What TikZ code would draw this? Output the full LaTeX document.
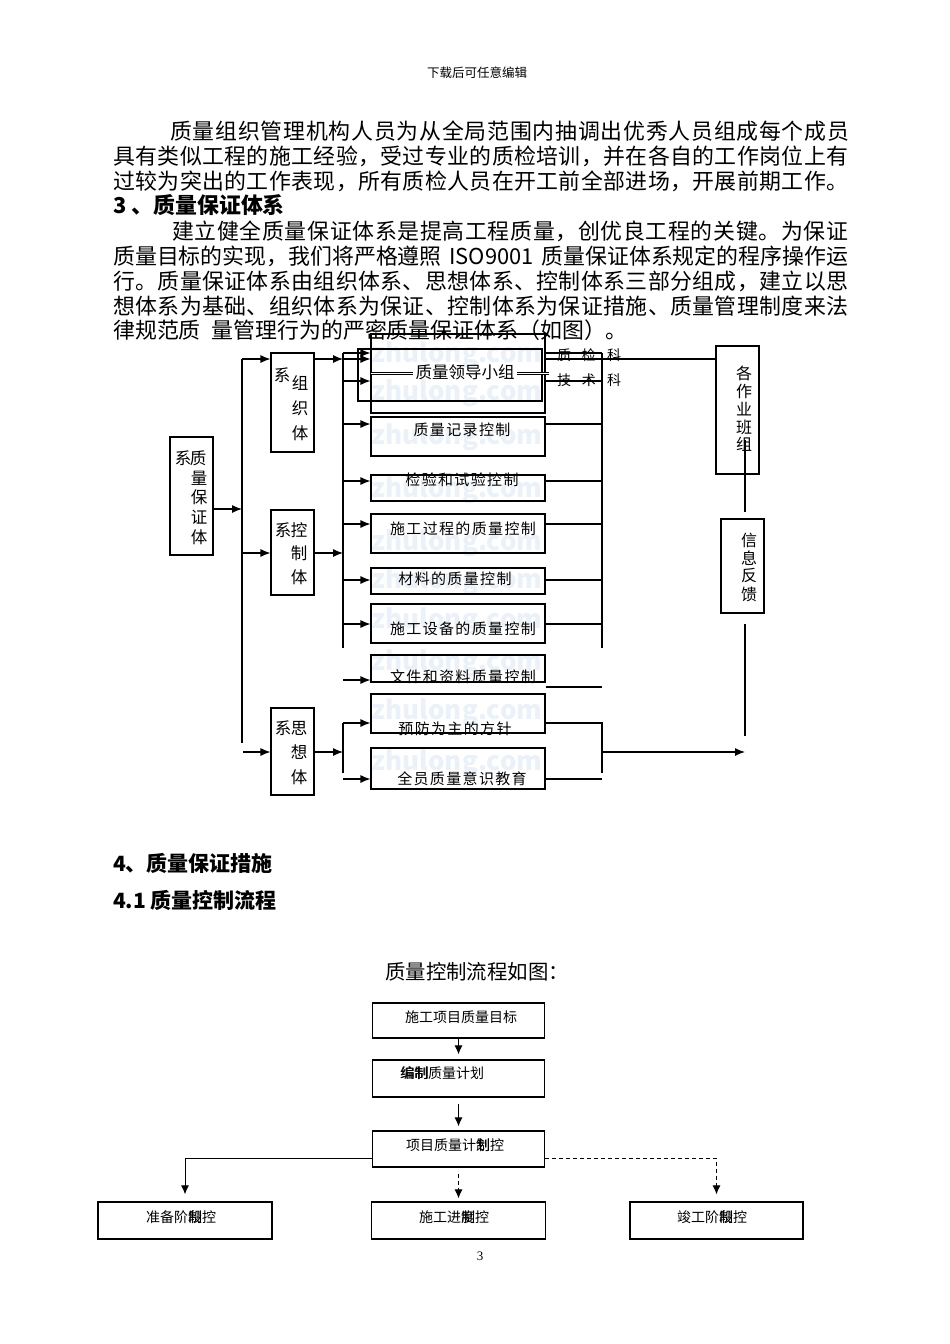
\documentclass[tikz,border=0pt]{standalone}
\usepackage{fontspec}
\setmainfont{Noto Sans CJK SC}
\newfontfamily\boxfont[LetterSpace=9]{Noto Sans CJK SC}
\newfontfamily\pagefont{Liberation Serif}
\usetikzlibrary{arrows.meta,positioning,calc}
\definecolor{mark}{HTML}{EBF1F8}

\makeatletter
\newcommand\spreadline[2]{\makebox[#1][s]{\@tfor\ch:=#2\do{\ch\hfil}\unskip}}
\makeatother
\newcommand\ovl[2]{\rlap{#1}#2}

\tikzset{
  frame/.style={draw,line width=1.1pt,inner sep=0pt},
  link/.style={line width=1.1pt},
  arr/.style={line width=1.1pt,-{Latex[length=10pt,width=8pt]}},
  arr2/.style={line width=1pt,-{Latex[length=9pt,width=8pt]}},
  bodyline/.style={anchor=west,inner sep=0pt,font=\fontsize{21.9}{26}\selectfont},
  boxtext/.style={inner sep=0pt,font=\boxfont\fontsize{15}{18}\selectfont},
  vchar/.style={inner sep=0pt,font=\fontsize{16.5}{19}\selectfont},
  flowtext/.style={inner sep=0pt,font=\fontsize{14}{17}\selectfont},
  wmark/.style={inner sep=0pt,text=mark,font=\bfseries\fontsize{26}{30}\selectfont}
}

\begin{document}
\begin{tikzpicture}[x=1pt,y=-1pt]
\useasboundingbox (0,0) rectangle (950,1344);
\fill[white] (0,0) rectangle (950,1344);

\node (hdr) [inner sep=0pt,font=\fontsize{12.5}{15}\selectfont] at (477,73) {下载后可任意编辑};

% text
\node (p1) [bodyline] at (170,131) {\spreadline{679pt}{质量组织管理机构人员为从全局范围内抽调出优秀人员组成每个成员}};
\node (p2) [bodyline] at (113,156) {\spreadline{735pt}{具有类似工程的施工经验，受过专业的质检培训，并在各自的工作岗位上有}};
\node (p3) [bodyline] at (113,181) {\spreadline{735pt}{过较为突出的工作表现，所有质检人员在开工前全部进场，开展前期工作。}};
\node (h3) [bodyline,font=\bfseries\fontsize{21.9}{26}\selectfont] at (113,205) {3 、质量保证体系};
\node (q1) [bodyline] at (172,231) {\spreadline{676pt}{建立健全质量保证体系是提高工程质量，创优良工程的关键。为保证}};
\node (q2) [bodyline] at (113,256) {\makebox[735pt][s]{质量目标的实现，我们将严格遵照 ISO9001 质量保证体系规定的程序操作运}};
\node (q3) [bodyline] at (113,281) {\spreadline{735pt}{行。质量保证体系由组织体系、思想体系、控制体系三部分组成，建立以思}};
\node (q4) [bodyline] at (113,306) {\spreadline{735pt}{想体系为基础、组织体系为保证、控制体系为保证措施、质量管理制度来法}};
\node (q5) [bodyline] at (113,330) {律规范质\hspace{0.5em}量管理行为的严密质量保证体系（如图）。};

% watermark
\foreach \y [count=\i] in {355,393,437,490,543,581,621,663,712,763}
  \node (wm\i) [wmark] at (457,\y) {zhulong.com};

% boxes
\node (qbzt) [frame,minimum width=43pt,minimum height=118pt] at (191.5,496) {};
\node (zz) [frame,minimum width=43pt,minimum height=99pt] at (292.5,402.5) {};
\node (kz) [frame,minimum width=43pt,minimum height=85pt] at (292.5,552.5) {};
\node (sx) [frame,minimum width=43pt,minimum height=87pt] at (292.5,751.5) {};
\node (lead) [frame,minimum width=174pt,minimum height=79pt] at (458,373.5) {};
\node (leadin) [frame,minimum width=184pt,minimum height=52pt] at (450,375) {};
\node (jl) [frame,minimum width=174pt,minimum height=39pt] at (458,436.5) {};
\node (jy) [frame,minimum width=174pt,minimum height=26pt] at (458,488) {};
\node (sg) [frame,minimum width=174pt,minimum height=39pt] at (458,533.5) {};
\node (cl) [frame,minimum width=174pt,minimum height=26pt] at (458,581) {};
\node (sb) [frame,minimum width=174pt,minimum height=39pt] at (458,623.5) {};
\node (wj) [frame,minimum width=174pt,minimum height=27pt] at (458,668.5) {};
\node (yf) [frame,minimum width=174pt,minimum height=39pt] at (458,713.5) {};
\node (qy) [frame,minimum width=174pt,minimum height=41pt] at (458,768.5) {};
\node (gz) [frame,minimum width=43pt,minimum height=128pt] at (737.5,410) {};
\node (xx) [frame,minimum width=43pt,minimum height=94pt] at (742.5,566) {};

% box labels
\foreach \c/\x/\y [count=\i] in {系/183/458,质/198/458,量/199/478,保/199/497,证/199/517,体/199/537,
    系/282/375,组/300/383,织/300/408,体/300/433,
    系/283/530,控/299/530,制/299/553,体/299/577,
    系/283/728,思/299/728,想/299/752,体/299/777}
  \node (vc\i) [vchar] at (\x,\y) {\c};
\foreach \c/\y [count=\i] in {各/373,作/391,业/409,班/427,组/444}
  \node (gc\i) [vchar,font=\fontsize{16}{18}\selectfont] at (744,\y) {\c};
\foreach \c/\y [count=\i] in {信/540,息/558,反/576,馈/594}
  \node (xc\i) [vchar,font=\fontsize{16}{18}\selectfont] at (749,\y) {\c};

\node (leadt) [inner sep=0pt,font=\fontsize{16.5}{19}\selectfont] at (465,372) {质量领导小组};
\draw[double,double distance=1.8pt,line width=0.7pt] (371,373.5) -- (413,373.5);
\draw[double,double distance=1.8pt,line width=0.7pt] (517,373.5) -- (549,373.5);
\node (jlt) [boxtext] at (462,430) {质量记录控制};
\node (jyt) [boxtext] at (462,480) {检验和试验控制};
\node (sgt) [boxtext] at (463,529) {施工过程的质量控制};
\node (clt) [boxtext] at (455,579) {材料的质量控制};
\node (sbt) [boxtext] at (463,629) {施工设备的质量控制};
\node (wjt) [boxtext] at (463,677) {文件和资料质量控制};
\node (yft) [boxtext] at (455,729) {预防为主的方针};
\node (qyt) [boxtext] at (462,779) {全员质量意识教育};
\node (zjk) [inner sep=0pt,font=\fontsize{14}{16}\selectfont] at (589,355) {质\hspace{11pt}检\hspace{11pt}科};
\node (jsk) [inner sep=0pt,font=\fontsize{14}{16}\selectfont] at (589,380) {技\hspace{11pt}术\hspace{11pt}科};

% main trunk
\coordinate (ta) at (242,359);
\coordinate (tb) at (242,743);
\coordinate (tin) at (242,509);
\coordinate (tk) at (242,553);
\coordinate (ts) at (243,752);
\draw[link] (ta) -- (tb);
\draw[arr] (qbzt.east |- tin) -- (tin);
\draw[arr] (ta) -- (zz.west |- ta);
\draw[arr] (tk) -- (kz.west |- tk);
\draw[arr] (ts) -- (sx.west |- ts);

% organisation and control branches
\coordinate (ua) at (343,353);
\coordinate (ub) at (343,648);
\coordinate (uz) at (343,359);
\coordinate (uj) at (343,381);
\coordinate (uk) at (343,553);
\draw[link] (ua) -- (ub);
\draw[arr] (zz.east |- uz) -- (uz);
\draw[arr] (uz) -- (lead.west |- uz);
\draw[arr] (ua) -- (lead.west |- ua);
\draw[arr] (uj) -- (lead.west |- uj);
\draw[arr] (kz.east |- uk) -- (uk);
\foreach \n/\y in {jl/424,jy/481,sg/524,cl/580,sb/624}{
  \draw[arr] (343,\y) -- (\n.west |- 343,\y);
  \draw[link] (\n.east |- 602,\y) -- (602,\y);
}
\draw[arr] (343,680) -- (wj.west |- 343,680);
\draw[link] (wj.east |- 602,687) -- (602,687);

\coordinate (va) at (602,353);
\coordinate (vb) at (602,648);
\draw[link] (va) -- (vb);
\draw[link] (lead.east |- va) -- (va);
\draw[link] (lead.east |- uz) -- (gz.west |- uz);
\draw[link] (lead.east |- uj) -- (602,381);

% thinking branch
\coordinate (wa) at (343,723);
\coordinate (wb) at (343,773);
\draw[link] (wa) -- (wb);
\draw[arr] (sx.east |- 343,752) -- (343,752);
\draw[arr] (wa) -- (yf.west |- wa);
\draw[arr] (343,779) -- (qy.west |- 343,779);
\draw[link] (yf.east |- wa) -- (602,723) -- (602,773);
\draw[link] (qy.east |- 343,779) -- (602,779);
\coordinate (fb) at (745,752);
\draw[arr] (602,752) -- (fb);
\draw[link] (745,440) -- (745,512);
\draw[link] (745,624) -- (745,736);

% section 4
\node (h4) [bodyline,font=\bfseries\fontsize{21}{25}\selectfont] at (113,863) {4、质量保证措施};
\node (h41) [bodyline,font=\bfseries\fontsize{21}{25}\selectfont] at (113,900) {4.1 质量控制流程};
\node (cap) [inner sep=0pt,font=\fontsize{20.4}{24}\selectfont] at (477,972) {质量控制流程如图：};

% flow chart
\node (f1) [frame,line width=1.2pt,minimum width=172pt,minimum height=35pt] at (458.5,1020.5) {};
\node (f2) [frame,line width=1.2pt,minimum width=172pt,minimum height=37pt] at (458.5,1078.5) {};
\node (f3) [frame,line width=1.2pt,minimum width=172pt,minimum height=36pt] at (458.5,1149) {};
\node (f4) [frame,line width=1.2pt,minimum width=174pt,minimum height=37pt] at (185,1220.5) {};
\node (f5) [frame,line width=1.2pt,minimum width=174pt,minimum height=37pt] at (458.5,1220.5) {};
\node (f6) [frame,line width=1.2pt,minimum width=173pt,minimum height=37pt] at (716.5,1220.5) {};
\node (f1t) [flowtext] at (461,1017) {施工项目质量目标};
\node (f2t) [flowtext] at (442,1073) {\rlap{\hspace{0.8pt}编制}编制质量计划};
\node (f3t) [flowtext] at (455,1145) {项目质量计\ovl{划}{制}控};
\node (f4t) [flowtext] at (181,1217) {准备阶\ovl{段}{制}控};
\node (f5t) [flowtext] at (454,1217) {施工进\ovl{度}{制}控};
\node (f6t) [flowtext] at (712,1217) {竣工阶\ovl{段}{制}控};

\draw[arr2] (f1.south) -- ([yshift=5pt]f2.north);
\draw[arr2] ([yshift=-6pt]f2.south) -- ([yshift=4pt]f3.north);
\draw[arr2] (f3.west |- 0,1158) -| ([yshift=7pt]f4.north);
\draw[arr2,dash pattern=on 4pt off 3pt] ([yshift=-6pt]f3.south) -- ([yshift=3pt]f5.north);
\draw[arr2,dash pattern=on 4pt off 3pt] (f3.east |- 0,1158) -| ([yshift=7pt]f6.north);

\node (pg) [inner sep=0pt,font=\pagefont\fontsize{13}{15}\selectfont] at (480,1256) {3};
\end{tikzpicture}
\end{document}
